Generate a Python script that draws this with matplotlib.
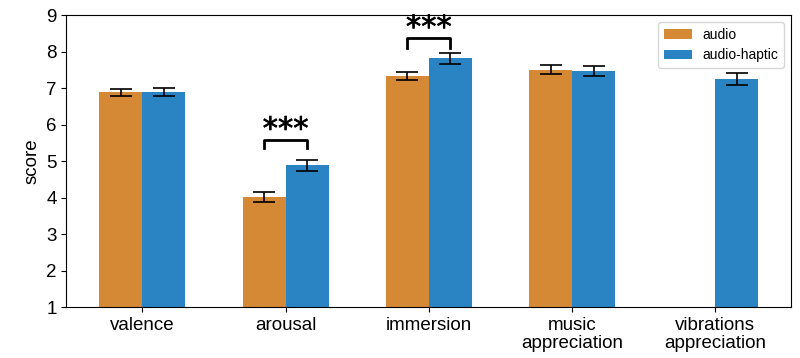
import matplotlib
matplotlib.use("Agg")
import matplotlib.pyplot as plt
import matplotlib.patheffects as pe
import numpy as np

plt.rcParams['font.family'] = ['Liberation Sans', 'DejaVu Sans']

categories = ["valence", "arousal", "immersion", "music\nappreciation", "vibrations\nappreciation"]
audio = [6.88, 4.02, 7.33, 7.50, np.nan]
audio_err = [0.09, 0.14, 0.12, 0.12, np.nan]
haptic = [6.88, 4.89, 7.82, 7.47, 7.25]
haptic_err = [0.11, 0.15, 0.15, 0.14, 0.16]
series_names = ["audio", "audio-haptic"]
sig_pairs = [(1, 5.575, 5.36), (2, 8.36, 8.10)]  # (category index, bracket top, leg bottom)

c_orange = "#D68934"
c_blue = "#2A84C4"

fig, ax = plt.subplots(figsize=(8, 3.58), dpi=100)
fig.subplots_adjust(left=0.083, right=0.989, top=0.958, bottom=0.142)

x = np.arange(len(categories))
w = 0.3
ax.bar(x - w/2, audio, w, yerr=audio_err, color=c_orange, capsize=8,
       error_kw=dict(elinewidth=1.2, capthick=1.2), label=series_names[0])
ax.bar(x + w/2, haptic, w, yerr=haptic_err, color=c_blue, capsize=8,
       error_kw=dict(elinewidth=1.2, capthick=1.2), label=series_names[1])

for idx, top, bot in sig_pairs:
    ax.plot([idx - w/2, idx - w/2, idx + w/2, idx + w/2], [bot, top, top, bot],
            color="black", lw=2)
    ax.annotate("***", xy=(idx, top), xytext=(0, 1), textcoords="offset points",
                ha="center", va="baseline", fontsize=22, family="DejaVu Sans",
                path_effects=[pe.withStroke(linewidth=0.5, foreground="black")])

ax.set_ylim(1, 9)
ax.set_yticks(range(1, 10))
ax.set_xticks(x)
ax.set_xticklabels(categories, fontsize=13.5, linespacing=1.1)
ax.tick_params(axis='y', labelsize=13.5)
ax.set_ylabel("score", fontsize=13.5)
ax.legend(loc="upper right", fontsize=10)

fig.savefig("out.png", dpi=100)
